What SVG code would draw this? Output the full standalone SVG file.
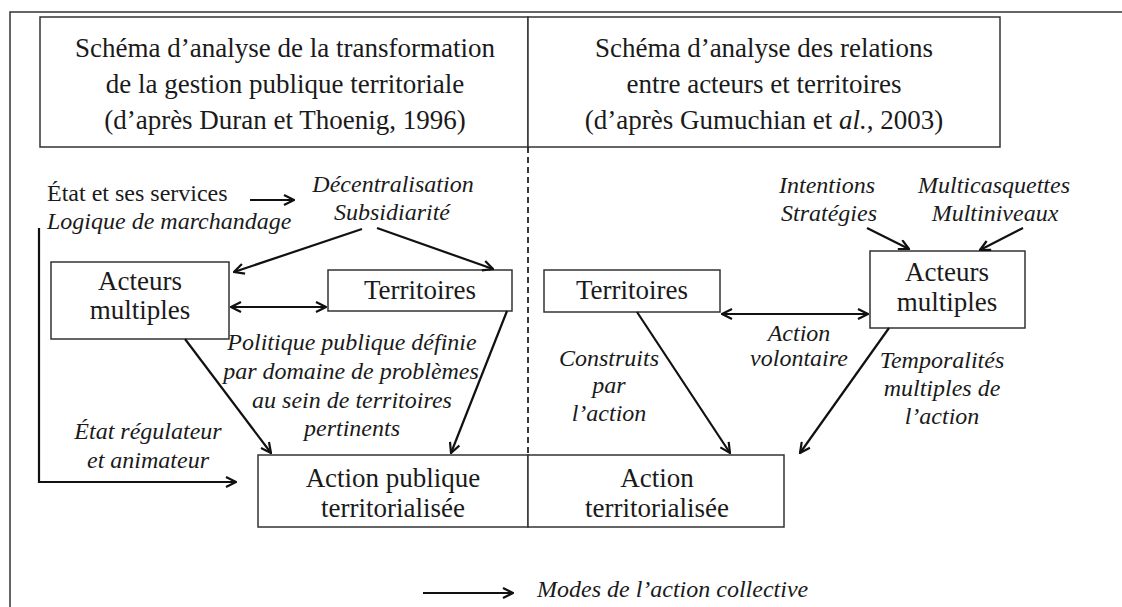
<svg xmlns="http://www.w3.org/2000/svg" width="1122" height="607" viewBox="0 0 1122 607">
<defs>
<marker id="ah" viewBox="0 0 12 12" refX="11" refY="6" markerWidth="12" markerHeight="12" markerUnits="userSpaceOnUse" orient="auto-start-reverse">
<path d="M1,1 L11,6 L1,11" fill="none" stroke="#111" stroke-width="2.2" stroke-linejoin="miter"/>
</marker>
<style>
.box{fill:#fff;stroke:#333;stroke-width:1.5}
.t{font-family:"Liberation Serif","Times New Roman",serif;font-size:24px;fill:#1a1a1a}
.h{font-size:27px}
.i{font-style:italic}
.m{text-anchor:middle}
.c{fill:none;stroke:#111;stroke-width:2.2}
.a{marker-end:url(#ah)}
.d{marker-start:url(#ah);marker-end:url(#ah)}
</style>
</defs>
<rect width="1122" height="607" fill="#fff"/>
<g id="frame">
<path d="M10,607 L10,12 L1122,12" fill="none" stroke="#333" stroke-width="1.5"/>
</g>
<g id="header-left">
<rect class="box" x="40" y="17" width="488" height="130"/>
<text class="t h m" x="285" y="57">Schéma d’analyse de la transformation</text>
<text class="t h m" x="285" y="93">de la gestion publique territoriale</text>
<text class="t h m" x="285" y="129">(d’après Duran et Thoenig, 1996)</text>
</g>
<g id="header-right">
<rect class="box" x="528" y="17" width="472" height="130"/>
<text class="t h m" x="764" y="57">Schéma d’analyse des relations</text>
<text class="t h m" x="764" y="93">entre acteurs et territoires</text>
<text class="t h m" x="764" y="129">(d’après Gumuchian et <tspan class="i">al.</tspan>, 2003)</text>
</g>
<g id="divider">
<line x1="528" y1="147" x2="528" y2="455" stroke="#222" stroke-width="1.8" stroke-dasharray="6,4"/>
</g>
<g id="etat-services">
<text class="t" x="47" y="201">État et ses services</text>
<text class="t i" x="47" y="229">Logique de marchandage</text>
</g>
<g id="decentralisation">
<text class="t i m" x="393" y="192">Décentralisation</text>
<text class="t i m" x="392" y="220">Subsidiarité</text>
</g>
<g id="acteurs-left">
<rect class="box" x="51" y="262" width="178" height="77"/>
<text class="t h m" x="140" y="290">Acteurs</text>
<text class="t h m" x="140" y="319">multiples</text>
</g>
<g id="territoires-left">
<rect class="box" x="328" y="270" width="184" height="41"/>
<text class="t h m" x="420" y="299">Territoires</text>
</g>
<g id="politique">
<text class="t i m" x="352" y="350">Politique publique définie</text>
<text class="t i m" x="351" y="379">par domaine de problèmes</text>
<text class="t i m" x="352" y="408">au sein de territoires</text>
<text class="t i m" x="352" y="436">pertinents</text>
</g>
<g id="etat-regulateur">
<text class="t i m" x="148" y="439">État régulateur</text>
<text class="t i m" x="148" y="468">et animateur</text>
</g>
<g id="action-publique">
<rect class="box" x="258" y="455" width="270" height="72"/>
<text class="t h m" x="393" y="487">Action publique</text>
<text class="t h m" x="393" y="517">territorialisée</text>
</g>
<g id="territoires-right">
<rect class="box" x="544" y="270" width="176" height="42"/>
<text class="t h m" x="632" y="299">Territoires</text>
</g>
<g id="intentions">
<text class="t i m" x="827" y="193">Intentions</text>
<text class="t i m" x="829" y="221">Stratégies</text>
</g>
<g id="multicasquettes">
<text class="t i m" x="994" y="193">Multicasquettes</text>
<text class="t i m" x="995" y="221">Multiniveaux</text>
</g>
<g id="acteurs-right">
<rect class="box" x="870" y="251" width="155" height="77"/>
<text class="t h m" x="947" y="281">Acteurs</text>
<text class="t h m" x="947" y="311">multiples</text>
</g>
<g id="action-volontaire">
<text class="t i m" x="799" y="341">Action</text>
<text class="t i m" x="799" y="366">volontaire</text>
</g>
<g id="construits">
<text class="t i m" x="609" y="366">Construits</text>
<text class="t i m" x="609" y="393">par</text>
<text class="t i m" x="609" y="421">l’action</text>
</g>
<g id="temporalites">
<text class="t i m" x="942" y="368">Temporalités</text>
<text class="t i m" x="942" y="396">multiples de</text>
<text class="t i m" x="942" y="424">l’action</text>
</g>
<g id="action-territorialisee">
<rect class="box" x="528" y="455" width="256" height="72"/>
<text class="t h m" x="657" y="487">Action</text>
<text class="t h m" x="657" y="517">territorialisée</text>
</g>
<g id="legend">
<text class="t i" x="537" y="597">Modes de l’action collective</text>
</g>
<g id="connectors">
<line class="c a" x1="250" y1="200" x2="294" y2="200"/>
<line class="c a" x1="362" y1="229" x2="234" y2="272"/>
<line class="c a" x1="377" y1="228" x2="493" y2="269"/>
<line class="c d" x1="231" y1="307" x2="326" y2="307"/>
<line class="c a" x1="185" y1="339" x2="271" y2="453"/>
<line class="c a" x1="507" y1="311" x2="451" y2="453"/>
<polyline class="c a" points="39,228 39,482 236,482"/>
<line class="c a" x1="867" y1="228" x2="909" y2="249"/>
<line class="c a" x1="1023" y1="228" x2="980" y2="250"/>
<line class="c d" x1="722" y1="314" x2="868" y2="314"/>
<line class="c a" x1="637" y1="312" x2="730" y2="453"/>
<line class="c a" x1="889" y1="328" x2="800" y2="453"/>
<line class="c a" x1="423" y1="593" x2="513" y2="593"/>
</g>
</svg>
